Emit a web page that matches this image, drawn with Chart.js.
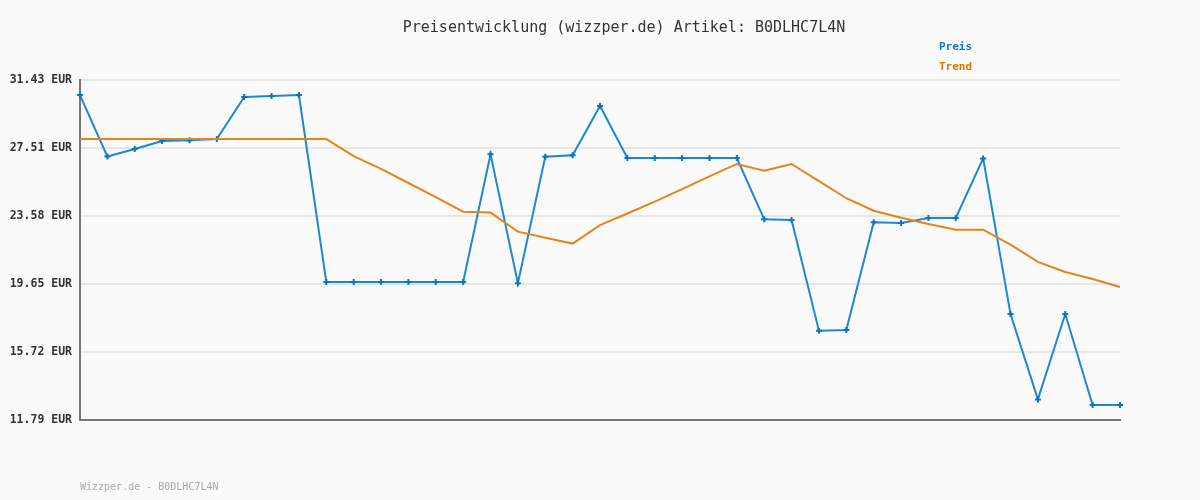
<!DOCTYPE html>
<html>
<head>
<meta charset="utf-8">
<script src="https://cdn.jsdelivr.net/npm/chart.js@4/dist/chart.umd.min.js"></script>
<style>
  html, body { margin: 0; padding: 0; background: #fafafa; }
  #wrap { width: 1200px; height: 500px; position: relative; }
</style>
</head>
<body>
<div id="wrap"><canvas id="priceChart" width="1200" height="500"></canvas></div>
<script>
// Values
const titleText = "Preisentwicklung (wizzper.de) Artikel: B0DLHC7L4N";
const footerText = "Wizzper.de - B0DLHC7L4N";
const seriesNames = ["Preis", "Trend"];

const yTickValues = [11.79, 15.72, 19.65, 23.58, 27.51, 31.43];

const pricePoints = [
    30.56, 27.01, 27.44, 27.91, 27.95, 28.02, 30.45, 30.51, 30.56, 19.76,
    19.76, 19.76, 19.76, 19.76, 19.76, 27.14, 19.69, 27.00, 27.08, 29.93,
    26.92, 26.92, 26.92, 26.92, 26.92, 23.38, 23.34, 16.95, 16.99, 23.21,
    23.17, 23.46, 23.46, 26.90, 17.91, 12.98, 17.91, 12.66, 12.66
];

const trendPoints = [
    28.02, 28.02, 28.02, 28.02, 28.02, 28.02, 28.02, 28.02, 28.02, 28.02,
    27.03, 26.30, 25.48, 24.67, 23.82, 23.77, 22.67, 22.32, 21.98, 23.05,
    23.72, 24.40, 25.13, 25.86, 26.58, 26.19, 26.58, 25.59, 24.60, 23.88,
    23.47, 23.11, 22.78, 22.78, 21.92, 20.92, 20.34, 19.93, 19.47
];

const categories = pricePoints.map(() => "");

/**
 * Draw title, legend labels and footer as canvas text
 */
const textPlugin = {
    id: "textPlugin",
    afterDraw(chart) {
        const ctx = chart.ctx;
        ctx.save();
        ctx.textBaseline = "middle";

        ctx.fillStyle = "#333";
        ctx.font = "15px 'DejaVu Sans Mono'";
        ctx.textAlign = "center";
        ctx.fillText(titleText, 624, 28);

        ctx.textAlign = "left";
        ctx.font = "bold 11px 'DejaVu Sans Mono'";
        ctx.fillStyle = "#1177cc";
        ctx.fillText(seriesNames[0], 939, 47);
        ctx.fillStyle = "#dd7700";
        ctx.fillText(seriesNames[1], 939, 67);

        ctx.font = "10px 'DejaVu Sans Mono'";
        ctx.fillStyle = "#aaa";
        ctx.fillText(footerText, 80, 487);
        ctx.restore();
    }
};

const ctx = document.getElementById("priceChart").getContext("2d");

new Chart(ctx, {
    type: "line",
    data: {
        labels: categories,
        datasets: [
            {
                label: seriesNames[1],
                data: trendPoints,
                borderColor: "#e3861a",
                borderWidth: 2,
                pointRadius: 0,
                tension: 0,
                fill: false
            },
            {
                label: seriesNames[0],
                data: pricePoints,
                borderColor: "#1e88d2",
                borderWidth: 2,
                pointStyle: "cross",
                pointRadius: 3,
                pointBorderWidth: 2,
                pointBorderColor: "#0c74c4",
                pointBackgroundColor: "#0c74c4",
                tension: 0,
                fill: false
            }
        ]
    },
    options: {
        responsive: false,
        animation: false,
        layout: {
            padding: { left: 0, right: 80, top: 80, bottom: 0 }
        },
        plugins: {
            legend: { display: false },
            title: { display: false },
            tooltip: { enabled: false }
        },
        scales: {
            x: {
                offset: false,
                ticks: { display: false },
                grid: { display: true, color: "rgba(0,0,0,0)", drawTicks: false },
                border: { color: "#777", width: 2 },
                afterFit(scale) { scale.height = 80; }
            },
            y: {
                min: yTickValues[0],
                max: yTickValues[yTickValues.length - 1],
                afterBuildTicks(scale) {
                    scale.ticks = yTickValues.map(v => ({ value: v }));
                },
                afterFit(scale) { scale.width = 80; },
                ticks: {
                    padding: 8,
                    color: "#333",
                    font: { family: "'DejaVu Sans Mono'", size: 11.5, weight: "bold" },
                    callback: (v) => Number(v).toFixed(2) + " EUR"
                },
                grid: { color: "#e6e6e6", lineWidth: 2, drawTicks: false },
                border: { color: "#777", width: 2 }
            }
        }
    },
    plugins: [textPlugin]
});
</script>
</body>
</html>
